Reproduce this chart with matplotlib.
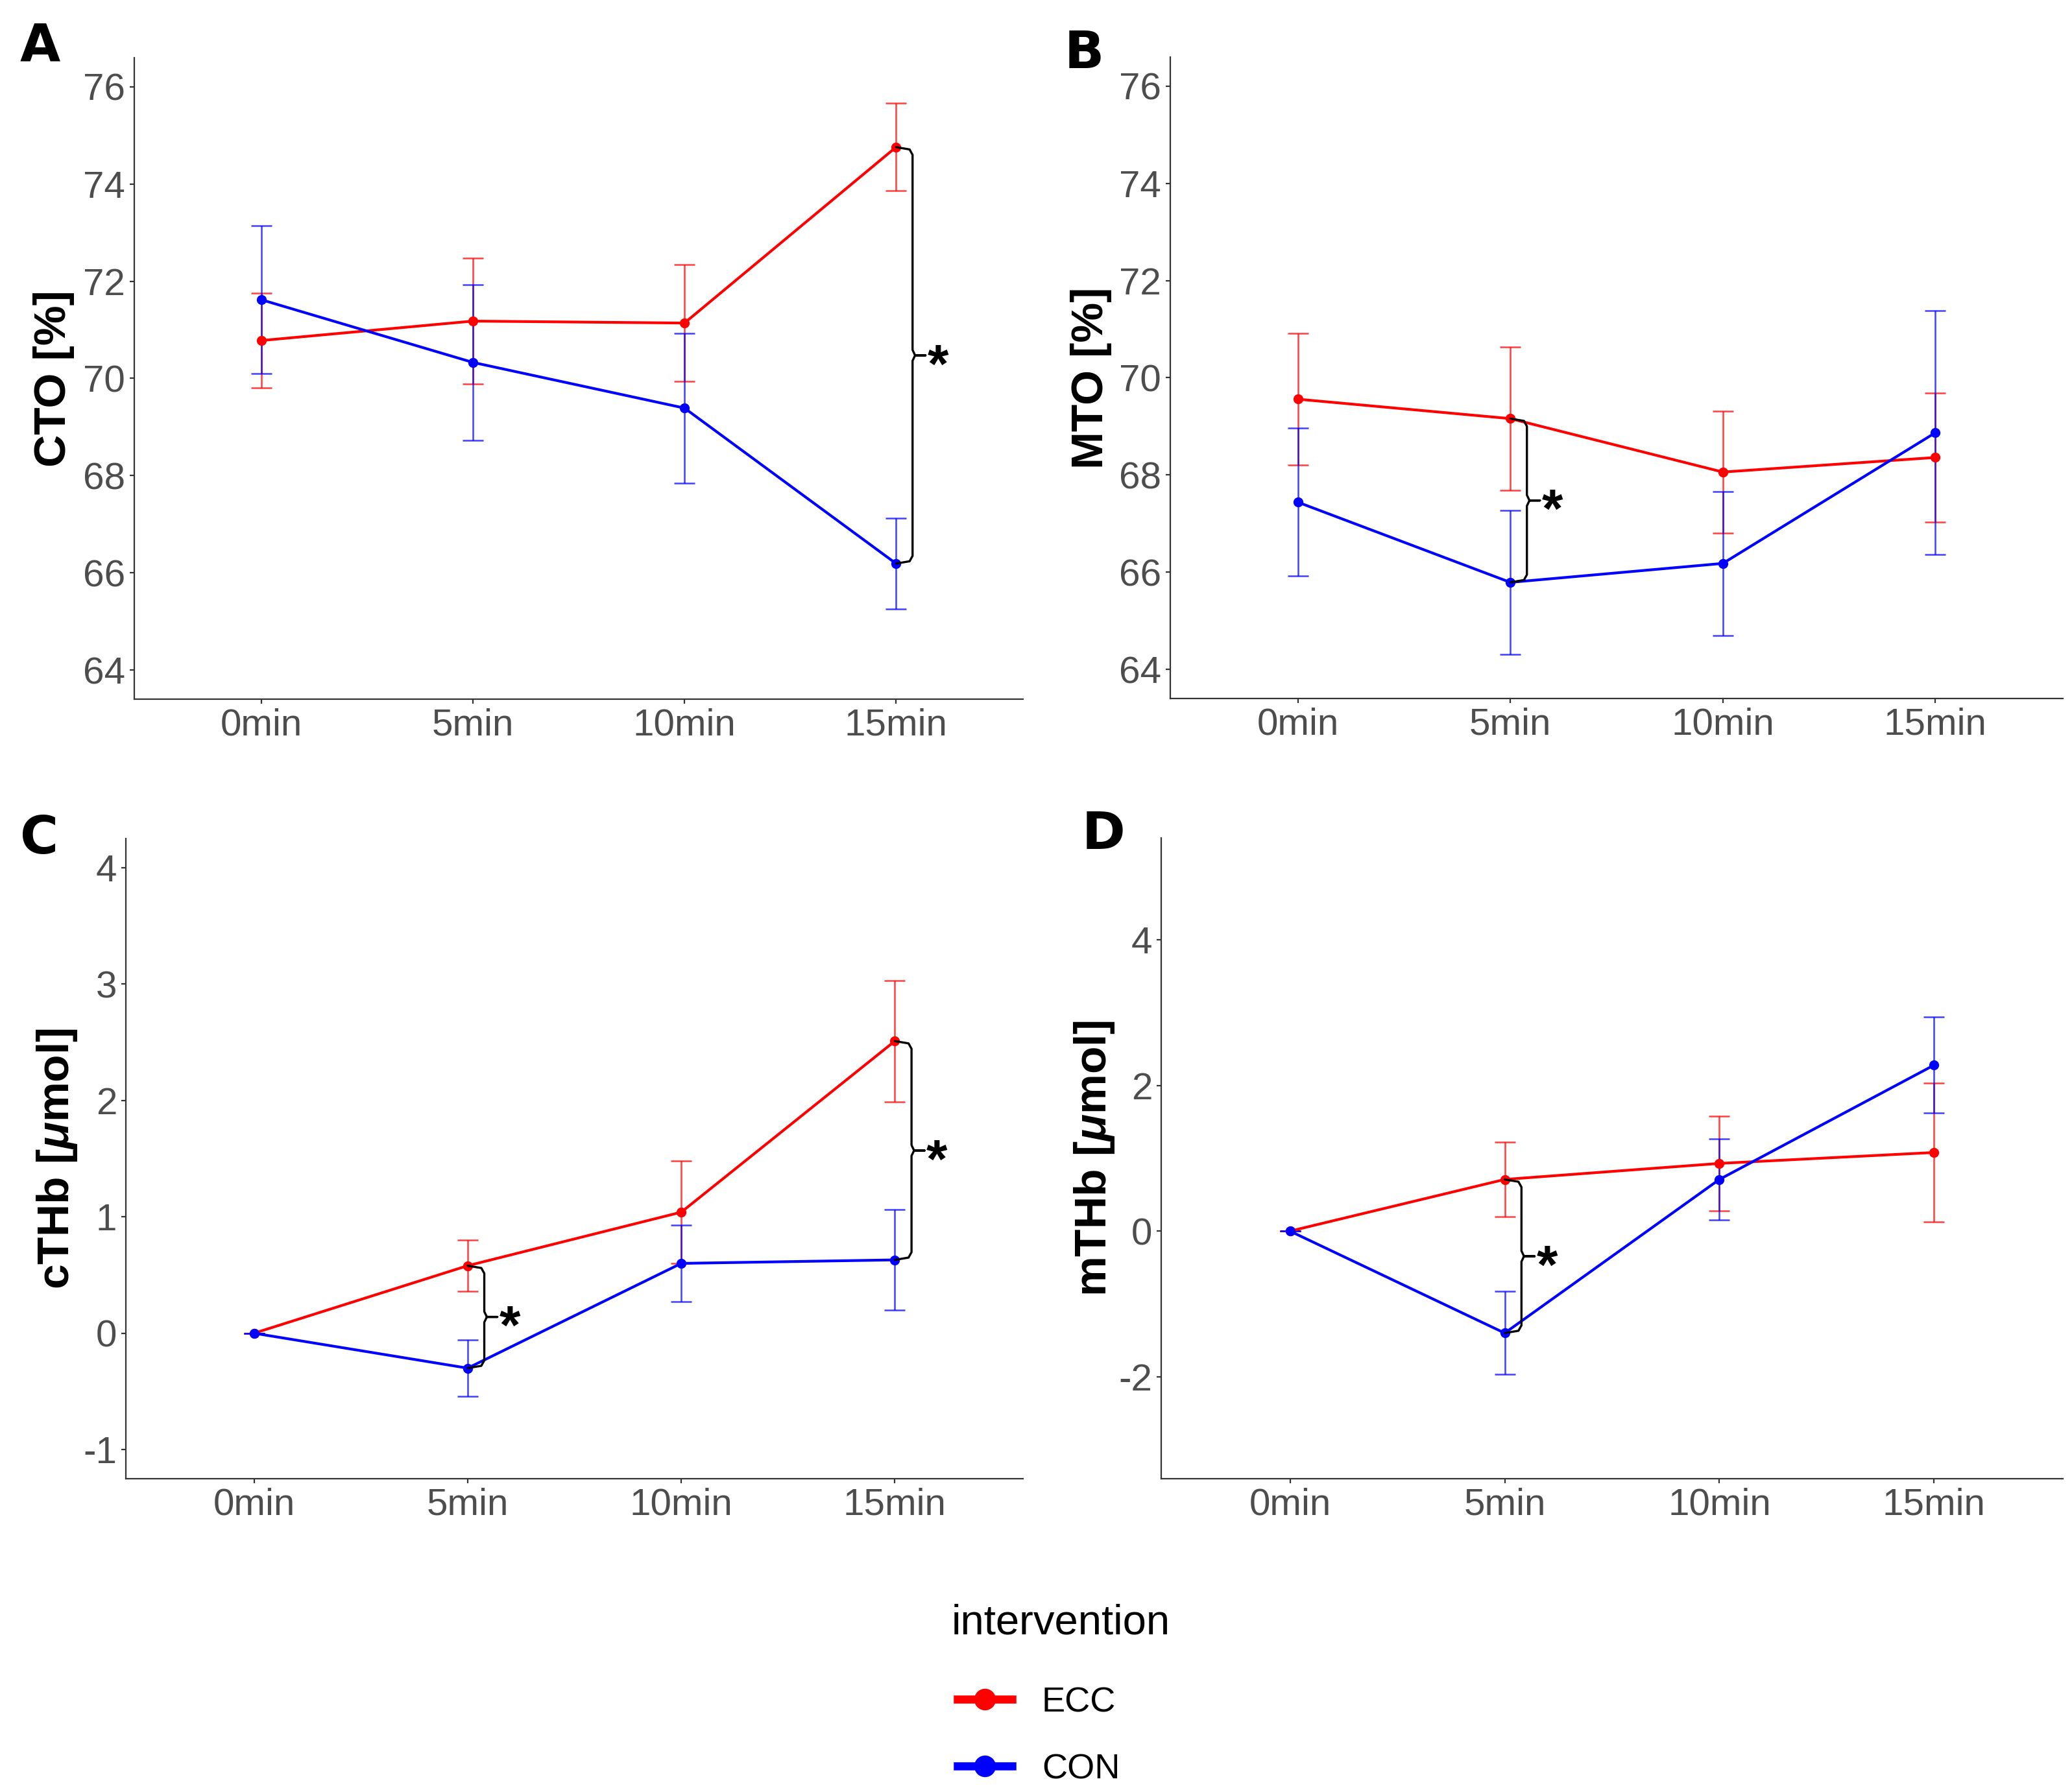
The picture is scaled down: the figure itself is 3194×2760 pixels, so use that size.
import numpy as np
import matplotlib
matplotlib.use('Agg')
from matplotlib import pyplot as plt
from matplotlib.lines import Line2D

plt.rcParams['font.family'] = ['Liberation Sans', 'DejaVu Sans']
plt.rcParams['mathtext.fontset'] = 'custom'
plt.rcParams['mathtext.rm'] = 'Liberation Sans:bold'
plt.rcParams['mathtext.it'] = 'Liberation Sans:italic:bold'

# time points
times = ['0min', '5min', '10min', '15min']

# A: CTO [%]
cto_ecc = [70.78, 71.18, 71.14, 74.76]
cto_ecc_se = [0.98, 1.29, 1.20, 0.90]
cto_con = [71.62, 70.33, 69.39, 66.19]
cto_con_se = [1.52, 1.60, 1.54, 0.94]

# B: MTO [%]
mto_ecc = [69.56, 69.16, 68.06, 68.36]
mto_ecc_se = [1.36, 1.47, 1.25, 1.33]
mto_con = [67.44, 65.79, 66.18, 68.87]
mto_con_se = [1.52, 1.48, 1.48, 2.51]

# C: cTHb [umol]
cthb_ecc = [0.0, 0.58, 1.04, 2.51]
cthb_ecc_se = [0.0, 0.22, 0.44, 0.52]
cthb_con = [0.0, -0.30, 0.60, 0.63]
cthb_con_se = [0.0, 0.24, 0.33, 0.43]

# D: mTHb [umol]
mthb_ecc = [0.0, 0.71, 0.93, 1.08]
mthb_ecc_se = [0.0, 0.51, 0.65, 0.95]
mthb_con = [0.0, -1.40, 0.71, 2.28]
mthb_con_se = [0.0, 0.57, 0.56, 0.66]

# significant differences (index into times)
sig_cto = [3]
sig_mto = [1]
sig_cthb = [1, 3]
sig_mthb = [1]

groups = ['ECC', 'CON']
colors = {'ECC': '#FF0000', 'CON': '#0000FF'}

fig = plt.figure(figsize=(15.97, 13.8), dpi=200)
W, H = 3194, 2760


def add_axes(l, t, r, b):
    return fig.add_axes([l / W, 1 - b / H, (r - l) / W, (b - t) / H])


def bracket(ax, xi, y_top, y_bot):
    lo, hi = ax.get_ylim()
    d = 0.012 * (hi - lo)
    x1 = xi + 0.078
    x2 = xi + 0.139
    ym = (y_top + y_bot) / 2
    xs = [xi, x1 - 0.014, x1, x1, x1 + 0.012, x2, x1 + 0.012, x1, x1, x1 - 0.014, xi]
    ys = [y_top, y_top - d * 0.3, y_top - d, ym + d * 0.7, ym, ym, ym, ym - d * 0.7,
          y_bot + d, y_bot + d * 0.3, y_bot]
    ax.plot(xs, ys, color='black', lw=1.2, solid_capstyle='round',
            solid_joinstyle='round', zorder=5)
    fs = 30
    ax.annotate('*', xy=(xi + 0.197, ym), xytext=(0, -0.50 * fs),
                textcoords='offset points', ha='center', va='baseline',
                fontsize=fs, fontweight='bold', color='black')


def panel(ax, ecc, ecc_se, con, con_se, ylim, yticks, ylabel, sig, label_x):
    x = np.arange(len(times))
    ax.set_ylim(ylim[0] - 0.05 * (ylim[1] - ylim[0]), ylim[1] + 0.05 * (ylim[1] - ylim[0]))
    ax.set_xlim(-0.6, len(times) - 0.4)
    for g, m, s in [('ECC', ecc, ecc_se), ('CON', con, con_se)]:
        ax.errorbar(x, m, yerr=s, fmt='none', ecolor=colors[g], elinewidth=0.9,
                    capsize=5.9, capthick=0.9, alpha=0.75, zorder=2)
        ax.plot(x, m, color=colors[g], lw=1.5, marker='o', ms=4.5, zorder=3)
    for i in sig:
        bracket(ax, x[i], ecc[i], con[i])
    ax.set_xticks(x)
    ax.set_xticklabels(times)
    ax.set_yticks(yticks)
    ax.set_yticklabels([str(v) for v in yticks])
    for sp in ['top', 'right']:
        ax.spines[sp].set_visible(False)
    for sp in ['left', 'bottom']:
        ax.spines[sp].set_color('#333333')
        ax.spines[sp].set_linewidth(0.8)
    ax.tick_params(axis='both', colors='#333333', labelcolor='#4D4D4D',
                   labelsize=21, length=2.5, width=0.8, pad=2.5)
    pos = ax.get_position()
    fig.text(label_x / W, pos.y0 + pos.height / 2, ylabel, rotation=90,
             ha='center', va='center', fontsize=25, fontweight='bold')


axA = add_axes(207, 89, 1577, 1078)
axB = add_axes(1804, 88, 3180, 1077)
axC = add_axes(194, 1293, 1577, 2280)
axD = add_axes(1790, 1292, 3180, 2280)

panel(axA, cto_ecc, cto_ecc_se, cto_con, cto_con_se, (64, 76),
      [64, 66, 68, 70, 72, 74, 76], 'CTO [%]', sig_cto, 83)
panel(axB, mto_ecc, mto_ecc_se, mto_con, mto_con_se, (64, 76),
      [64, 66, 68, 70, 72, 74, 76], 'MTO [%]', sig_mto, 1682)
panel(axC, cthb_ecc, cthb_ecc_se, cthb_con, cthb_con_se, (-1, 4),
      [-1, 0, 1, 2, 3, 4], r'cTHb [$\mathit{\mu}$mol]', sig_cthb, 88)
panel(axD, mthb_ecc, mthb_ecc_se, mthb_con, mthb_con_se, (-3, 5),
      [-2, 0, 2, 4], r'mTHb [$\mathit{\mu}$mol]', sig_mthb, 1687)

# panel letters
for letter, lx, ly in [('A', 31, 33), ('B', 1641, 44), ('C', 31, 1255), ('D', 1668, 1248)]:
    fig.text(lx / W, 1 - ly / H, letter, ha='left', va='top', fontsize=29,
             fontweight='bold', family='DejaVu Sans')

# legend
fig.text(1467 / W, 1 - 2502 / H, 'intervention', ha='left', va='center', fontsize=23.5)
handles = [Line2D([], [], color=colors[g], lw=4.5, marker='o', ms=11) for g in groups]
fig.legend(handles, groups, loc='upper left', bbox_to_anchor=(1476 / W, 1 - 2600 / H),
           frameon=False, fontsize=19.5, handlelength=1.55, handletextpad=0.85,
           labelspacing=0.98, borderpad=0, borderaxespad=0)

fig.savefig('out.png', dpi=200, facecolor='white')
